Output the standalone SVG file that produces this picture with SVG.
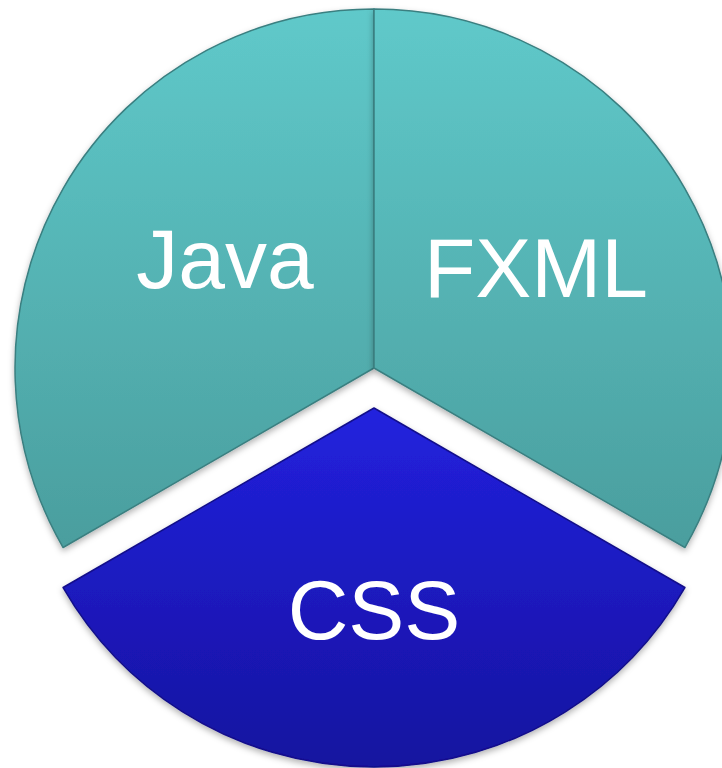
<svg xmlns="http://www.w3.org/2000/svg" width="722" height="768" viewBox="0 0 722 768">
  <defs>
    <linearGradient id="teal" gradientUnits="userSpaceOnUse" x1="0" y1="9" x2="0" y2="560">
      <stop offset="0" stop-color="#5fc9ca"/>
      <stop offset="1" stop-color="#4a9d9d"/>
    </linearGradient>
    <linearGradient id="blue" gradientUnits="userSpaceOnUse" x1="0" y1="408" x2="0" y2="767">
      <stop offset="0" stop-color="#2222de"/>
      <stop offset="1" stop-color="#16129f"/>
    </linearGradient>
    <filter id="shadow" x="-10%" y="-10%" width="120%" height="120%">
      <feDropShadow dx="0" dy="3" stdDeviation="3" flood-color="#000" flood-opacity="0.3"/>
    </filter>
  </defs>
  <style>
    .teal { fill: url(#teal); stroke: #3a7f80; stroke-width: 1.5; stroke-linejoin: round; }
    .blue { fill: url(#blue); stroke: #12108a; stroke-width: 1.5; stroke-linejoin: round; }
    .lbl { font-family: "Liberation Sans", Arial, sans-serif; font-size: 84px; fill: #ffffff; text-anchor: middle; }
  </style>
  <rect width="722" height="768" fill="#ffffff"/>
  <g id="java" filter="url(#shadow)">
    <path class="teal" d="M374,368 L374,9 A359,359 0 0 0 63.1,547.5 Z"/>
    <text class="lbl" x="225" y="288">Java</text>
  </g>
  <g id="fxml" filter="url(#shadow)">
    <path class="teal" d="M374,368 L374,9 A359,359 0 0 1 684.9,547.5 Z"/>
    <text class="lbl" x="536" y="297">FXML</text>
  </g>
  <g id="css" filter="url(#shadow)">
    <path class="blue" d="M374,408 L684.9,587.5 A359,359 0 0 1 63.1,587.5 Z"/>
    <text class="lbl" x="374" y="639">CSS</text>
  </g>
  <g id="connectors"/>
</svg>
